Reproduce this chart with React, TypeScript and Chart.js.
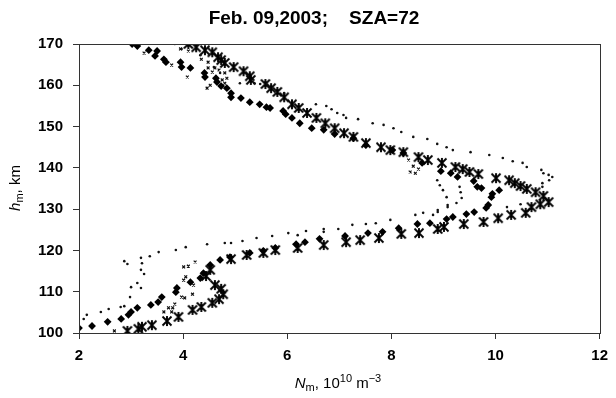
import React, { useEffect, useRef } from 'react';
import { Chart, registerables } from 'chart.js';

Chart.register(...registerables);

const FONT = '"Liberation Sans", Arial, sans-serif';

const titleText = 'Feb. 09,2003;    SZA=72';
const xMin = 2;
const xMax = 12;
const xStep = 2;
const yMin = 100;
const yMax = 170;
const yStep = 10;

// Filled diamonds
const diamondPoints: number[][] = [
  [3.02, 170.0], [3.12, 169.5], [3.34, 168.5], [3.5, 168.3], [3.46, 167.1], [3.63, 166.3],
  [3.67, 165.6], [3.95, 165.6], [3.97, 164.4], [4.14, 164.2], [4.41, 163.0], [4.42, 162.0],
  [4.63, 161.7], [4.65, 160.8], [4.73, 159.8], [4.84, 159.3], [4.92, 158.1], [4.92, 157.1],
  [5.11, 156.9], [5.28, 155.9], [5.47, 155.4], [5.6, 154.7], [5.67, 154.5], [5.92, 153.8],
  [5.97, 153.0], [6.09, 152.1], [6.24, 150.8], [6.47, 149.6], [6.7, 149.2], [6.91, 148.2],
  [7.27, 147.2], [7.51, 145.5], [8.02, 144.3], [8.23, 143.6], [8.59, 141.2], [8.95, 139.2],
  [9.14, 138.7], [9.27, 137.8], [9.58, 136.8], [9.65, 135.4], [9.73, 135.1], [9.94, 133.7],
  [10.07, 134.6], [9.92, 132.9], [9.86, 131.0], [9.82, 130.3], [9.59, 129.3], [9.44, 128.8],
  [9.18, 128.1], [9.06, 127.6], [8.74, 126.6], [8.5, 126.4], [8.14, 125.4], [7.83, 124.5],
  [7.55, 124.2], [7.11, 123.5], [6.62, 122.8], [6.34, 122.0], [6.17, 121.5], [5.77, 120.6],
  [5.54, 119.9], [5.28, 119.4], [4.9, 118.4], [4.71, 117.7], [4.52, 116.5], [4.39, 114.5],
  [4.33, 113.3], [4.14, 112.3], [3.88, 110.9], [3.86, 109.9], [3.59, 108.7], [3.52, 107.5],
  [3.38, 106.8], [3.12, 106.1], [3.0, 105.1], [2.95, 104.4], [2.81, 103.4], [2.55, 102.7],
  [2.25, 101.7], [2.0, 101.2],
];

// Asterisks
const asteriskPoints: number[][] = [
  [4.1, 170.0], [4.25, 169.2], [4.42, 168.5], [4.56, 168.0], [4.67, 166.8], [4.73, 166.1],
  [4.8, 165.4], [4.97, 164.4], [5.16, 163.4], [5.28, 162.2], [5.3, 161.3], [5.58, 160.3],
  [5.69, 159.3], [5.81, 158.4], [5.94, 157.1], [6.09, 155.4], [6.22, 154.5], [6.38, 153.3],
  [6.56, 152.1], [6.73, 150.8], [6.91, 149.6], [7.09, 148.4], [7.27, 147.5], [7.51, 146.0],
  [7.8, 145.0], [7.98, 144.3], [8.23, 143.8], [8.52, 142.6], [8.7, 141.9], [8.97, 141.2],
  [9.23, 140.2], [9.37, 139.7], [9.5, 139.0], [9.67, 138.5], [10.01, 137.5], [10.26, 137.0],
  [10.37, 136.3], [10.48, 135.6], [10.6, 134.9], [10.77, 134.1], [10.92, 133.2], [11.02, 131.7],
  [10.86, 131.2], [10.69, 130.5], [10.58, 129.1], [10.3, 128.6], [10.05, 127.8], [9.77, 126.9],
  [9.39, 126.4], [9.01, 125.7], [8.89, 125.2], [8.53, 124.2], [8.19, 124.0], [7.76, 123.0],
  [7.4, 122.5], [7.13, 122.0], [6.7, 121.3], [6.2, 120.6], [5.77, 120.1], [5.54, 119.4],
  [5.22, 118.9], [4.92, 117.9], [4.52, 115.3], [4.44, 113.8], [4.61, 111.6], [4.73, 110.7],
  [4.77, 109.4], [4.69, 108.2], [4.56, 107.3], [4.35, 106.3], [4.18, 105.6], [3.91, 103.9],
  [3.69, 102.9], [3.4, 101.9], [3.21, 101.5], [3.14, 101.0], [2.93, 100.5],
];

// Small dots
const dotPoints: number[][] = [
  [3.84, 170.0], [3.97, 168.8], [4.33, 167.3], [4.59, 164.4], [4.71, 163.0], [5.09, 160.5],
  [5.37, 160.5], [5.48, 160.3], [5.94, 158.1], [6.55, 155.4], [6.75, 155.0], [6.85, 154.2],
  [6.96, 153.3], [7.08, 152.8], [7.13, 152.1], [7.36, 151.8], [7.64, 150.8], [7.85, 150.4],
  [8.04, 149.6], [8.19, 148.7], [8.42, 147.5], [8.69, 147.0], [8.88, 145.8], [9.06, 145.0],
  [9.18, 144.3], [9.52, 143.8], [9.88, 143.1], [10.14, 142.4], [10.33, 141.6], [10.52, 141.2],
  [10.6, 140.2], [10.88, 139.5], [10.92, 138.7], [11.02, 138.3], [11.09, 137.8], [11.03, 137.0],
  [10.9, 136.3], [10.9, 135.4], [10.48, 131.2], [10.22, 130.5], [9.25, 131.5], [9.08, 130.5],
  [8.89, 129.3], [8.61, 129.1], [8.46, 128.6], [7.98, 127.4], [7.7, 126.6], [7.51, 126.4],
  [7.25, 126.2], [6.98, 125.2], [6.7, 125.2], [6.7, 124.5], [6.36, 124.7], [6.2, 123.7],
  [6.02, 124.2], [5.71, 123.5], [5.41, 123.0], [5.14, 122.3], [4.92, 121.8], [4.8, 121.8],
  [4.46, 121.5], [4.05, 120.8], [3.86, 120.1], [3.53, 119.6], [3.36, 118.6], [3.19, 118.2],
  [2.93, 116.7], [2.87, 117.4], [3.21, 116.9], [3.19, 115.3], [3.25, 114.3], [3.12, 112.1],
  [3.19, 110.9], [3.0, 111.1], [2.98, 108.7], [2.87, 106.5], [2.8, 106.3], [2.57, 105.8],
  [2.42, 105.1], [2.15, 104.4], [2.09, 103.4], [8.88, 137.0], [8.93, 135.8], [8.99, 134.6],
  [9.06, 132.9], [9.08, 131.0], [8.89, 129.8], [9.31, 135.4], [9.33, 134.1], [9.35, 132.7],
  [8.8, 128.6],
];

// Small crosses
const crossPoints: number[][] = [
  [3.95, 168.8], [4.1, 168.3], [4.35, 166.3], [4.48, 165.6], [4.48, 164.2], [4.61, 164.2],
  [4.69, 163.7], [4.56, 163.2], [4.8, 163.0], [4.84, 161.7], [4.75, 161.3], [4.8, 160.5],
  [4.52, 160.0], [4.46, 159.3], [4.08, 162.0], [3.78, 164.9], [3.25, 167.8], [8.33, 141.9],
  [8.42, 140.4], [8.52, 139.7], [8.46, 138.7], [8.36, 139.0], [4.23, 117.2], [4.1, 116.2],
  [4.01, 116.0], [4.05, 113.6], [4.01, 112.8], [4.2, 111.6], [4.18, 109.4], [4.03, 108.5],
  [3.97, 108.7], [3.84, 107.0], [3.8, 106.1], [3.72, 106.1], [3.63, 105.1], [3.78, 105.1],
  [2.68, 100.5],
];

function toXY(points: number[][]) {
  return points.map(([x, y]) => ({ x, y }));
}

function makeAsterisk(): HTMLCanvasElement {
  const c = document.createElement('canvas');
  c.width = 12;
  c.height = 12;
  const g = c.getContext('2d')!;
  g.strokeStyle = '#000';
  g.lineWidth = 1.9;
  g.lineCap = 'butt';
  g.beginPath();
  g.moveTo(1.5, 1.5);
  g.lineTo(10.5, 10.5);
  g.moveTo(10.5, 1.5);
  g.lineTo(1.5, 10.5);
  g.moveTo(6, 1);
  g.lineTo(6, 11);
  g.stroke();
  return c;
}

type Seg = { t: string; kind: 'n' | 'i' | 'sub' | 'sup' };

function drawSegments(ctx: CanvasRenderingContext2D, segs: Seg[], cx: number, cy: number, size: number) {
  const fontFor = (k: Seg['kind']) => {
    if (k === 'i') return `italic ${size}px ${FONT}`;
    if (k === 'sub' || k === 'sup') return `${Math.round(size * 0.72)}px ${FONT}`;
    return `${size}px ${FONT}`;
  };
  let total = 0;
  for (const s of segs) {
    ctx.font = fontFor(s.kind);
    total += ctx.measureText(s.t).width;
  }
  let x = cx - total / 2;
  ctx.textAlign = 'left';
  ctx.textBaseline = 'alphabetic';
  for (const s of segs) {
    ctx.font = fontFor(s.kind);
    let y = cy;
    if (s.kind === 'sub') y = cy + size * 0.22;
    if (s.kind === 'sup') y = cy - size * 0.4;
    ctx.fillText(s.t, x, y);
    x += ctx.measureText(s.t).width;
  }
}

const decorPlugin = {
  id: 'decor',
  afterDraw(chart: any) {
    const { ctx, chartArea } = chart;
    ctx.save();
    ctx.strokeStyle = '#333';
    ctx.lineWidth = 1;
    ctx.strokeRect(
      Math.round(chartArea.left) + 0.5,
      Math.round(chartArea.top) + 0.5,
      Math.round(chartArea.right - chartArea.left),
      Math.round(chartArea.bottom - chartArea.top)
    );
    ctx.fillStyle = '#000';
    ctx.font = `bold 19px ${FONT}`;
    ctx.textAlign = 'center';
    ctx.textBaseline = 'alphabetic';
    ctx.fillText(titleText, 314, 24);

    drawSegments(
      ctx,
      [
        { t: 'N', kind: 'i' },
        { t: 'm', kind: 'sub' },
        { t: ', 10', kind: 'n' },
        { t: '10', kind: 'sup' },
        { t: ' m', kind: 'n' },
        { t: '\u22123', kind: 'sup' },
      ],
      338,
      388,
      15
    );

    ctx.save();
    ctx.translate(20, 188);
    ctx.rotate(-Math.PI / 2);
    drawSegments(
      ctx,
      [
        { t: 'h', kind: 'i' },
        { t: 'm', kind: 'sub' },
        { t: ', km', kind: 'n' },
      ],
      0,
      0,
      15
    );
    ctx.restore();
    ctx.restore();
  },
};

export default function App() {
  const ref = useRef<HTMLCanvasElement | null>(null);
  useEffect(() => {
    document.body.style.margin = '0';
    const canvas = ref.current!;
    const asterisk = makeAsterisk();
    const tickFont = { family: FONT, size: 15, weight: 'bold' as const };
    const chart = new Chart(canvas, {
      type: 'scatter',
      data: {
        datasets: [
          {
            label: 'dots',
            data: toXY(dotPoints),
            pointStyle: 'circle',
            pointRadius: 1.3,
            backgroundColor: '#111',
            borderColor: '#111',
            borderWidth: 0,
          },
          {
            label: 'crosses',
            data: toXY(crossPoints),
            pointStyle: 'crossRot',
            pointRadius: 2,
            borderColor: '#111',
            borderWidth: 1.2,
          },
          {
            label: 'diamonds',
            data: toXY(diamondPoints),
            pointStyle: 'rectRot',
            pointRadius: 3.9,
            backgroundColor: '#000',
            borderColor: '#000',
            borderWidth: 0,
          },
          {
            label: 'asterisks',
            data: toXY(asteriskPoints),
            pointStyle: asterisk,
            pointRadius: 6,
            backgroundColor: '#000',
            borderColor: '#000',
          },
        ] as any,
      },
      options: {
        animation: false,
        responsive: false,
        events: [],
        layout: { padding: { top: 44, right: 9, left: 0, bottom: 0 } },
        plugins: {
          legend: { display: false },
          tooltip: { enabled: false },
          title: { display: false },
        },
        scales: {
          x: {
            type: 'linear',
            min: xMin,
            max: xMax,
            ticks: { stepSize: xStep, font: tickFont, color: '#000', padding: 8, maxRotation: 0, autoSkip: false },
            grid: { display: true, drawOnChartArea: false, drawTicks: true, tickLength: 6, color: '#333' },
            border: { display: true, color: '#333', width: 1 },
            afterFit: (s: any) => {
              s.height = 65;
            },
          },
          y: {
            type: 'linear',
            min: yMin,
            max: yMax,
            ticks: { stepSize: yStep, font: tickFont, color: '#000', padding: 10, autoSkip: false },
            grid: { display: true, drawOnChartArea: false, drawTicks: true, tickLength: 6, color: '#333' },
            border: { display: true, color: '#333', width: 1 },
            afterFit: (s: any) => {
              s.width = 79;
            },
          },
        },
      },
      plugins: [decorPlugin],
    });
    return () => chart.destroy();
  }, []);
  return <canvas ref={ref} width={616} height={398} style={{ display: 'block' }} />;
}
